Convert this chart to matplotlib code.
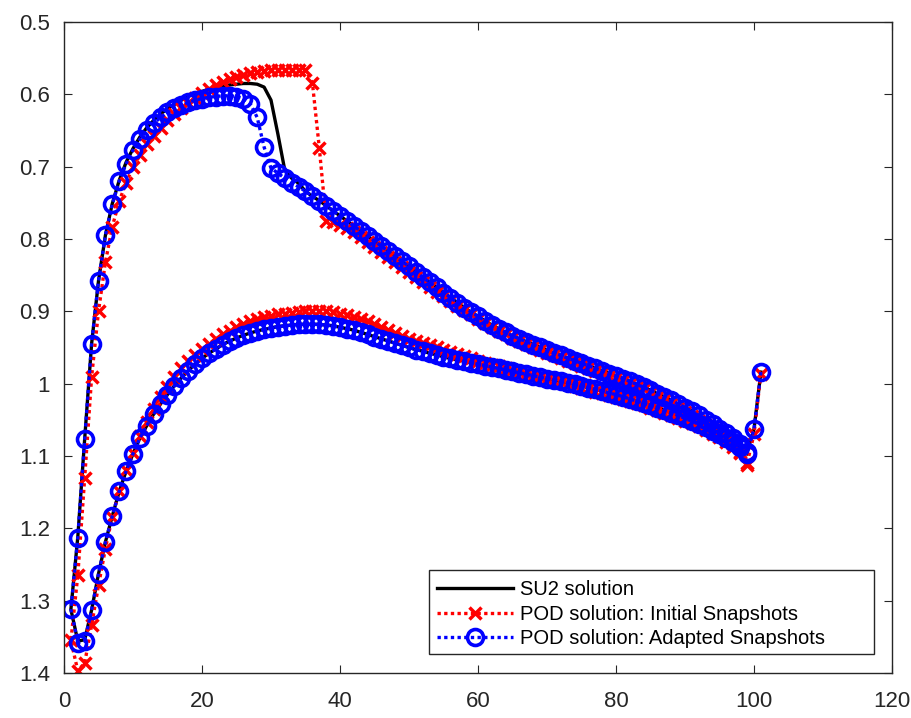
import matplotlib
matplotlib.use("Agg")
import matplotlib.pyplot as plt
from matplotlib.patches import Rectangle
from matplotlib.ticker import FuncFormatter
import numpy as np


# surface point index (upper surface goes trailing edge -> leading edge, lower goes back)
su2_upper = [
    1.312, 1.212, 1.076, 0.945, 0.858, 0.795, 0.751, 0.719, 0.694, 0.675,
    0.659, 0.646, 0.636, 0.627, 0.620, 0.614, 0.608, 0.603, 0.599, 0.596,
    0.593, 0.591, 0.589, 0.587, 0.586, 0.585, 0.585, 0.586, 0.590, 0.608,
    0.655, 0.705, 0.716, 0.723, 0.734, 0.741, 0.747, 0.754, 0.761, 0.768,
    0.775, 0.782, 0.789, 0.796, 0.803, 0.810, 0.817, 0.824, 0.831, 0.838,
    0.846, 0.853, 0.860, 0.867, 0.874, 0.881, 0.888, 0.895, 0.901, 0.907,
    0.913, 0.919, 0.924, 0.929, 0.934, 0.938, 0.942, 0.946, 0.950, 0.954,
    0.958, 0.961, 0.965, 0.968, 0.972, 0.975, 0.979, 0.982, 0.986, 0.989,
    0.993, 0.997, 1.001, 1.005, 1.009, 1.014, 1.018, 1.023, 1.028, 1.033,
    1.038, 1.044, 1.050, 1.056, 1.062, 1.068, 1.075, 1.083, 1.095, 1.063,
    0.984,
]
su2_lower = [
    1.356, 1.354, 1.313, 1.263, 1.219, 1.183, 1.149, 1.121, 1.097, 1.075,
    1.058, 1.042, 1.028, 1.015, 1.003, 0.992, 0.982, 0.973, 0.965, 0.958,
    0.952, 0.946, 0.941, 0.937, 0.933, 0.930, 0.927, 0.925, 0.923, 0.921,
    0.920, 0.919, 0.918, 0.918, 0.918, 0.918, 0.919, 0.920, 0.922, 0.924,
    0.926, 0.929, 0.932, 0.935, 0.938, 0.941, 0.944, 0.947, 0.950, 0.953,
    0.955, 0.958, 0.960, 0.963, 0.965, 0.967, 0.969, 0.971, 0.973, 0.975,
    0.977, 0.979, 0.981, 0.983, 0.985, 0.987, 0.989, 0.991, 0.993, 0.995,
    0.997, 0.999, 1.001, 1.003, 1.006, 1.008, 1.010, 1.013, 1.015, 1.018,
    1.021, 1.024, 1.027, 1.030, 1.033, 1.037, 1.040, 1.044, 1.048, 1.052,
    1.056, 1.060, 1.065, 1.070, 1.075, 1.081, 1.088, 1.097,
]

initial_upper = [
    1.355, 1.265, 1.130, 0.991, 0.900, 0.832, 0.783, 0.748, 0.722, 0.701,
    0.684, 0.669, 0.657, 0.646, 0.636, 0.627, 0.619, 0.612, 0.605, 0.598,
    0.592, 0.587, 0.583, 0.579, 0.576, 0.573, 0.571, 0.569, 0.568, 0.567,
    0.567, 0.567, 0.567, 0.567, 0.567, 0.584, 0.674, 0.775, 0.776, 0.780,
    0.785, 0.791, 0.797, 0.804, 0.811, 0.818, 0.825, 0.832, 0.839, 0.846,
    0.853, 0.860, 0.867, 0.873, 0.879, 0.886, 0.892, 0.898, 0.904, 0.910,
    0.916, 0.922, 0.927, 0.932, 0.937, 0.941, 0.945, 0.949, 0.953, 0.957,
    0.961, 0.964, 0.968, 0.971, 0.975, 0.978, 0.982, 0.985, 0.989, 0.992,
    0.996, 1.000, 1.004, 1.008, 1.013, 1.018, 1.023, 1.028, 1.033, 1.039,
    1.045, 1.051, 1.057, 1.063, 1.069, 1.076, 1.084, 1.094, 1.110, 1.070,
    0.986,
]
initial_lower = [
    1.397, 1.386, 1.334, 1.279, 1.228, 1.184, 1.149, 1.120, 1.096, 1.073,
    1.053, 1.035, 1.019, 1.004, 0.991, 0.979, 0.969, 0.960, 0.952, 0.945,
    0.938, 0.932, 0.927, 0.922, 0.918, 0.914, 0.911, 0.908, 0.906, 0.904,
    0.903, 0.902, 0.901, 0.900, 0.900, 0.900, 0.900, 0.901, 0.903, 0.905,
    0.908, 0.911, 0.914, 0.918, 0.922, 0.926, 0.930, 0.934, 0.938, 0.941,
    0.944, 0.947, 0.950, 0.953, 0.956, 0.959, 0.962, 0.965, 0.968, 0.971,
    0.974, 0.976, 0.979, 0.981, 0.984, 0.986, 0.989, 0.991, 0.994, 0.996,
    0.998, 1.001, 1.003, 1.006, 1.008, 1.011, 1.013, 1.016, 1.018, 1.021,
    1.024, 1.027, 1.030, 1.033, 1.036, 1.040, 1.043, 1.047, 1.051, 1.055,
    1.059, 1.064, 1.069, 1.074, 1.080, 1.087, 1.096, 1.112,
]

adapted_upper = [
    1.312, 1.213, 1.077, 0.945, 0.858, 0.795, 0.752, 0.720, 0.696, 0.677,
    0.662, 0.650, 0.640, 0.632, 0.625, 0.619, 0.615, 0.611, 0.608, 0.606,
    0.604, 0.603, 0.602, 0.602, 0.603, 0.606, 0.613, 0.632, 0.673, 0.702,
    0.709, 0.716, 0.722, 0.728, 0.734, 0.741, 0.747, 0.754, 0.761, 0.768,
    0.775, 0.782, 0.789, 0.796, 0.803, 0.810, 0.817, 0.824, 0.831, 0.838,
    0.846, 0.853, 0.860, 0.867, 0.874, 0.881, 0.888, 0.895, 0.901, 0.907,
    0.913, 0.919, 0.924, 0.929, 0.934, 0.938, 0.942, 0.946, 0.950, 0.954,
    0.958, 0.961, 0.965, 0.968, 0.972, 0.975, 0.979, 0.982, 0.986, 0.989,
    0.993, 0.997, 1.001, 1.005, 1.009, 1.014, 1.018, 1.023, 1.028, 1.033,
    1.038, 1.044, 1.050, 1.056, 1.062, 1.068, 1.075, 1.083, 1.095, 1.063,
    0.984,
]
adapted_lower = [
    1.358, 1.356, 1.313, 1.263, 1.219, 1.183, 1.149, 1.121, 1.097, 1.075,
    1.058, 1.042, 1.028, 1.015, 1.003, 0.992, 0.982, 0.973, 0.965, 0.958,
    0.952, 0.946, 0.941, 0.937, 0.933, 0.930, 0.927, 0.925, 0.923, 0.921,
    0.920, 0.919, 0.918, 0.918, 0.918, 0.918, 0.919, 0.920, 0.922, 0.924,
    0.926, 0.929, 0.932, 0.935, 0.938, 0.941, 0.944, 0.947, 0.950, 0.953,
    0.955, 0.958, 0.960, 0.963, 0.965, 0.967, 0.969, 0.971, 0.973, 0.975,
    0.977, 0.979, 0.981, 0.983, 0.985, 0.987, 0.989, 0.991, 0.993, 0.995,
    0.997, 0.999, 1.001, 1.003, 1.006, 1.008, 1.010, 1.013, 1.015, 1.018,
    1.021, 1.024, 1.027, 1.030, 1.033, 1.037, 1.040, 1.044, 1.048, 1.052,
    1.056, 1.060, 1.065, 1.070, 1.075, 1.081, 1.088, 1.097,
]

labels = [
    "SU2 solution",
    "POD solution: Initial Snapshots",
    "POD solution: Adapted Snapshots",
]
x_ticks = [0, 20, 40, 60, 80, 100, 120]
y_ticks = [0.5, 0.6, 0.7, 0.8, 0.9, 1.0, 1.1, 1.2, 1.3, 1.4]


def loop(upper, lower):
    # walk the upper surface backwards to the leading edge, then out along the lower one
    xu = np.arange(1, len(upper) + 1)
    xl = np.arange(2, len(lower) + 2)
    x = np.concatenate([xu[::-1], xl])
    y = np.concatenate([np.asarray(upper)[::-1], np.asarray(lower)])
    return x, y


def main() -> None:
    plt.rcParams.update({"font.family": ["Liberation Sans", "DejaVu Sans"]})
    W, H = 911, 718
    fig = plt.figure(figsize=(W / 100, H / 100), dpi=100)
    ax = fig.add_axes([64 / W, 1 - 673 / H, (892 - 64) / W, (673 - 22) / H])

    dots = (0, (1, 1))
    x, y = loop(su2_upper, su2_lower)
    ax.plot(x, y, "-", color="black", lw=2.4, label=labels[0])
    x, y = loop(initial_upper, initial_lower)
    ax.plot(x, y, linestyle=dots, color="red", lw=2.4, marker="x", ms=8.5, mew=2.5,
            label=labels[1])
    x, y = loop(adapted_upper, adapted_lower)
    ax.plot(x, y, linestyle=dots, color="blue", lw=2.4, marker="o", ms=11.5, mew=2.6,
            mfc="none", label=labels[2])

    ax.set_xlim(0, 120)
    ax.set_ylim(1.4, 0.5)
    ax.set_xticks(x_ticks)
    ax.set_yticks(y_ticks)
    ax.yaxis.set_major_formatter(FuncFormatter(lambda v, _: f"{v:g}"))
    ax.tick_params(direction="in", length=6, width=0.8, colors="#262626",
                   labelsize=16, top=True, right=True)
    ax.tick_params(axis="x", pad=13)
    ax.tick_params(axis="y", pad=10)
    for s in ax.spines.values():
        s.set_color("#262626")
        s.set_linewidth(1.0)

    # legend box drawn separately: the original has a wide right margin
    box = Rectangle((429 / W, 1 - 654 / H), (874 - 429) / W, (654 - 570) / H,
                    transform=fig.transFigure, facecolor="white", edgecolor="#262626",
                    lw=1.0, zorder=4, clip_on=False)
    ax.add_patch(box)
    leg = ax.legend(loc="upper left", bbox_to_anchor=(429 / W, 1 - 572 / H),
                    bbox_transform=fig.transFigure, fontsize=14.5, frameon=False,
                    handlelength=3.75, handletextpad=0.35, borderpad=0.4,
                    labelspacing=0.28, numpoints=1, borderaxespad=0)
    leg.set_zorder(6)

    fig.savefig("out.png", dpi=100)
    plt.close(fig)


if __name__ == "__main__":
    main()
